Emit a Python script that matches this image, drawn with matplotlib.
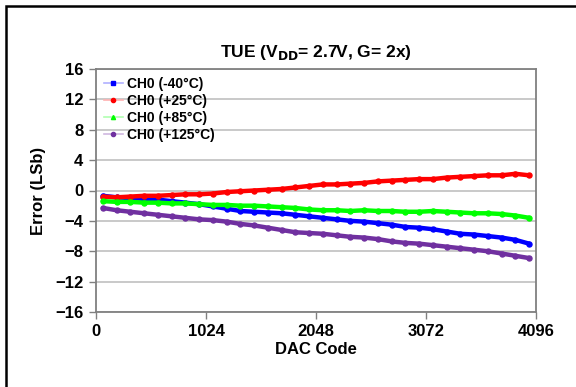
import matplotlib
matplotlib.use("Agg")
import matplotlib.pyplot as plt
from matplotlib.lines import Line2D
from matplotlib.patches import Rectangle

plt.rcParams['font.family'] = ['Liberation Sans', 'DejaVu Sans']

codes = [64 + 128 * i for i in range(32)]
red_25 = [-0.8, -0.9, -0.8, -0.7, -0.7, -0.6, -0.5, -0.5, -0.4, -0.2, -0.1, 0.0,
          0.1, 0.2, 0.4, 0.6, 0.8, 0.8, 0.9, 1.0, 1.2, 1.3, 1.4, 1.5,
          1.5, 1.7, 1.8, 1.9, 2.0, 2.0, 2.2, 2.0]
green_85 = [-1.4, -1.5, -1.5, -1.6, -1.6, -1.7, -1.7, -1.8, -1.9, -1.9, -2.0, -2.0,
            -2.1, -2.2, -2.3, -2.5, -2.6, -2.6, -2.7, -2.6, -2.7, -2.7, -2.8, -2.8,
            -2.7, -2.8, -2.9, -3.0, -3.0, -3.1, -3.3, -3.6]
blue_m40 = [-0.7, -0.9, -1.0, -1.1, -1.2, -1.4, -1.6, -1.8, -2.1, -2.4, -2.7, -2.8,
            -2.9, -3.0, -3.2, -3.4, -3.6, -3.8, -4.0, -4.1, -4.3, -4.5, -4.8, -4.9,
            -5.1, -5.4, -5.7, -5.8, -6.0, -6.2, -6.5, -7.0]
purple_125 = [-2.3, -2.6, -2.8, -3.0, -3.2, -3.4, -3.6, -3.8, -3.9, -4.1, -4.4, -4.6,
              -4.9, -5.2, -5.5, -5.6, -5.7, -5.9, -6.1, -6.2, -6.4, -6.7, -6.9, -7.0,
              -7.2, -7.4, -7.6, -7.8, -8.0, -8.3, -8.6, -8.9]

labels = ['CH0 (-40°C)', 'CH0 (+25°C)', 'CH0 (+85°C)', 'CH0 (+125°C)']
series = [blue_m40, red_25, green_85, purple_125]
colors = ['#0000FF', '#FF0000', '#00FF00', '#7030A0']
light = ['#B0B0FF', '#FFB0B0', '#B0FFB0', '#D0B8E0']
markers = ['s', 'o', '^', 'o']
xticks = [0, 1024, 2048, 3072, 4096]
yticks = [16, 12, 8, 4, 0, -4, -8, -12, -16]

fig = plt.figure(figsize=(5.76, 3.87), dpi=100)
ax = fig.add_axes([96/576, 1-312/387, 440/576, 243/387])

for ys, c in zip(series, colors):
    ax.plot(codes, ys, color=c, lw=3.2, solid_capstyle='round',
            solid_joinstyle='round', zorder=3)
    ax.plot(codes, ys, color=c, lw=0, marker='o', ms=3.6, zorder=3)

ax.set_xlim(0, 4096)
ax.set_ylim(-16, 16)
ax.set_xticks(xticks)
ax.set_yticks(yticks)
ax.yaxis.grid(True, color='#C0C0C0', lw=1.2)
ax.set_axisbelow(True)
for s in ax.spines.values():
    s.set_color('#808080')
    s.set_linewidth(1.3)
ax.tick_params(direction='out', length=5, color='#808080', width=1,
               labelsize=12, pad=4)
for t in ax.get_xticklabels() + ax.get_yticklabels():
    t.set_fontweight('bold')
ax.set_xlabel('DAC Code', fontsize=12, fontweight='bold', labelpad=2)
ax.set_ylabel('Error (LSb)', fontsize=12, fontweight='bold', labelpad=7)
ax.set_title('TUE (V$_{\\mathbf{DD}}$= 2.7V, G= 2x)', fontsize=12.5,
             fontweight='bold', pad=9)

handles = [Line2D([0], [0], color=l, lw=1.2, marker=m, markerfacecolor=c,
                  markeredgecolor=c, ms=3)
           for l, c, m in zip(light, colors, markers)]
leg = ax.legend(handles, labels, loc='upper left', frameon=False,
                fontsize=10, handlelength=1.4, handletextpad=0.3,
                labelspacing=0.22, borderaxespad=0.15,
                bbox_to_anchor=(0.0, 1.0))
for t in leg.get_texts():
    t.set_fontweight('bold')

fig.patches.append(Rectangle((6/576, -0.1), 1.2, 1.1 - 6/387,
                             transform=fig.transFigure, fill=False,
                             edgecolor='black', lw=1.8))

fig.savefig('out.png', dpi=100)
